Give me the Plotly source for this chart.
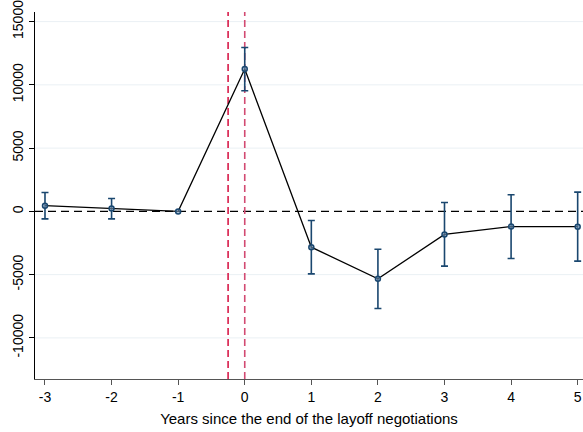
import plotly.graph_objects as go

# Event-time estimates with 95% confidence bounds
years = [-3, -2, -1, 0, 1, 2, 3, 4, 5]
coef = [450, 220, 0, 11250, -2830, -5330, -1820, -1200, -1210]
ci_low = [-590, -590, None, 9540, -4940, -7680, -4330, -3720, -3930]
ci_high = [1490, 1020, None, 12950, -720, -2990, 700, 1310, 1520]

x_ticks = [-3, -2, -1, 0, 1, 2, 3, 4, 5]
y_ticks = [-10000, -5000, 0, 5000, 10000, 15000]
event_lines = [-0.25, 0]
event_colors = ["#d81b4a", "#d24a72"]

navy = "#1a476f"
grid_color = "#eaf0f4"

err_plus = [(h - c) if h is not None else 0 for h, c in zip(ci_high, coef)]
err_minus = [(c - l) if l is not None else 0 for l, c in zip(ci_low, coef)]
has_ci = [l is not None for l in ci_low]

fig = go.Figure()

# Light horizontal grid at the non-zero y ticks
for yv in y_ticks:
    if yv != 0:
        fig.add_hline(y=yv, line=dict(color=grid_color, width=1), layer="below")

# Reference line at zero
fig.add_hline(y=0, line=dict(color="black", width=1.4, dash="8px,5px"), layer="below")

# Event window markers
for xv, col in zip(event_lines, event_colors):
    fig.add_vline(x=xv, line=dict(color=col, width=1.6, dash="7px,4px"), layer="below")

# Confidence intervals (only where estimated)
fig.add_trace(go.Scatter(
    x=[x for x, k in zip(years, has_ci) if k],
    y=[c for c, k in zip(coef, has_ci) if k],
    mode="markers",
    marker=dict(size=1, color="rgba(0,0,0,0)"),
    error_y=dict(type="data", symmetric=False,
                 array=[e for e, k in zip(err_plus, has_ci) if k],
                 arrayminus=[e for e, k in zip(err_minus, has_ci) if k],
                 color=navy, thickness=1.6, width=3.5),
    showlegend=False, hoverinfo="skip",
))

# Point estimates connected by a line
fig.add_trace(go.Scatter(
    x=years, y=coef, mode="lines+markers",
    line=dict(color="black", width=1.3),
    marker=dict(symbol="circle", size=5, color="rgba(120,155,190,0.6)",
                line=dict(color=navy, width=1.5)),
    showlegend=False,
))

fig.update_layout(
    width=583, height=432,
    margin=dict(l=35, r=0, t=12, b=53),
    paper_bgcolor="white", plot_bgcolor="white",
    font=dict(family="Liberation Sans, Arial, sans-serif", size=14, color="black"),
)

fig.update_xaxes(
    range=[-3.15, 5.08],
    tickmode="array", tickvals=x_ticks,
    ticktext=[str(v) for v in x_ticks],
    ticks="outside", ticklen=5, tickcolor="#555", tickwidth=1,
    showline=True, linecolor="#555", linewidth=1.2,
    showgrid=False, zeroline=False,
    title=dict(text="Years since the end of the layoff negotiations", standoff=9,
               font=dict(size=15)),
    tickfont=dict(size=14),
    ticklabeloverflow="allow",
)

fig.update_yaxes(
    range=[-13250, 15760],
    tickmode="array", tickvals=y_ticks,
    ticktext=[str(v) for v in y_ticks],
    tickangle=-90,
    ticks="outside", ticklen=5, tickcolor="black", tickwidth=1,
    showline=True, linecolor="black", linewidth=1.2,
    showgrid=False, zeroline=False,
    tickfont=dict(size=14),
    ticklabeloverflow="allow",
)

fig.write_html("out.html")
